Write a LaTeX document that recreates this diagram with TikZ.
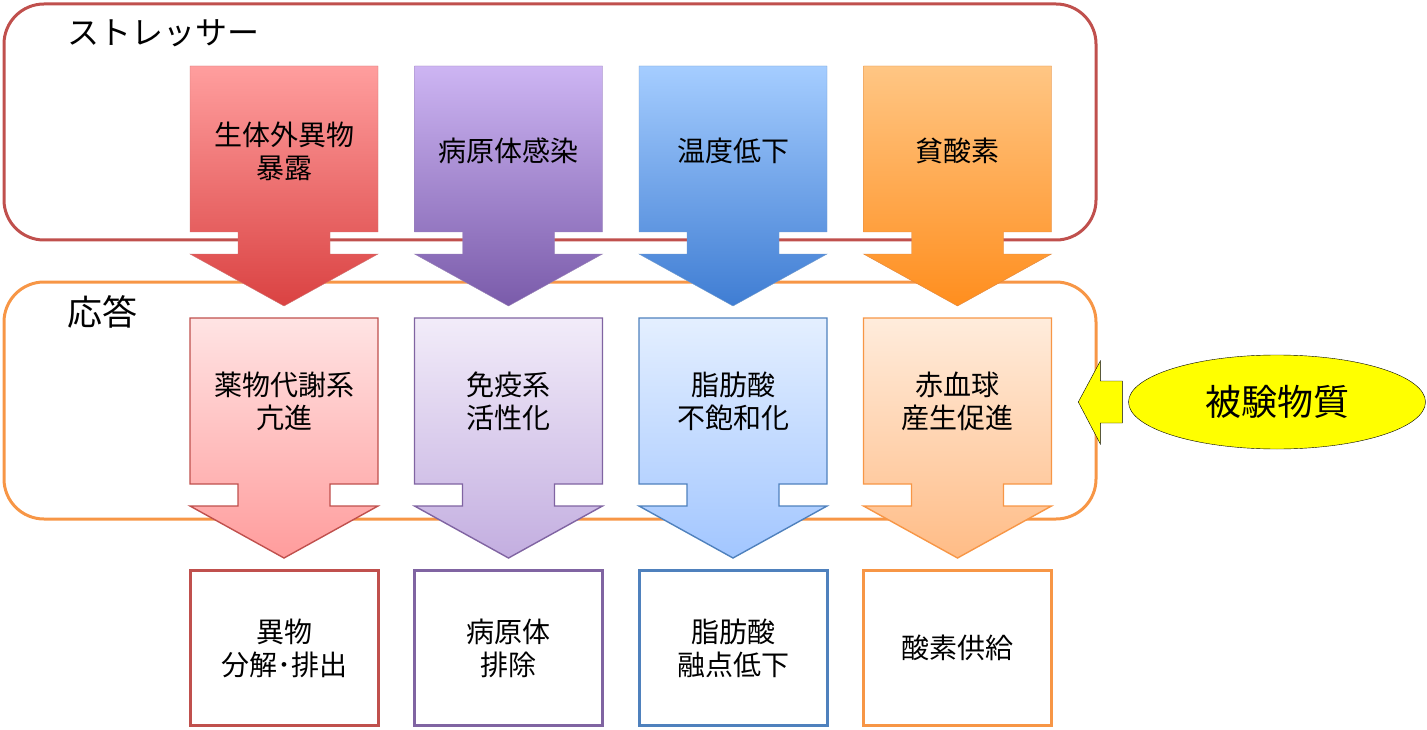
\documentclass[tikz,border=0pt]{standalone}
\usepackage{fontspec}
\setmainfont{Noto Sans CJK JP}
\usetikzlibrary{shapes.geometric, positioning}
\definecolor{redline}{HTML}{C0504D}
\definecolor{purpleline}{HTML}{8064A2}
\definecolor{blueline}{HTML}{4F81BD}
\definecolor{orangeline}{HTML}{F79646}
\definecolor{redtop}{HTML}{FF9E9E}
\definecolor{redbot}{HTML}{DA4242}
\definecolor{purpletop}{HTML}{CDB5F3}
\definecolor{purplebot}{HTML}{7A5BAA}
\definecolor{bluetop}{HTML}{A5CDFF}
\definecolor{bluebot}{HTML}{3F7DD3}
\definecolor{orangetop}{HTML}{FFC684}
\definecolor{orangebot}{HTML}{FF8E1E}
\definecolor{pinktop}{HTML}{FFE4E4}
\definecolor{pinkbot}{HTML}{FF9C9C}
\definecolor{lavtop}{HTML}{F2ECF9}
\definecolor{lavbot}{HTML}{C3AEE0}
\definecolor{skytop}{HTML}{E4EFFF}
\definecolor{skybot}{HTML}{A2C6FF}
\definecolor{peachtop}{HTML}{FFECDC}
\definecolor{peachbot}{HTML}{FFBC86}
\definecolor{testfill}{HTML}{FFFF00}
\tikzstyle{label} = [text centered, align=center, font=\fontsize{28pt}{33pt}\selectfont]
\tikzstyle{title} = [anchor=west, font=\fontsize{32pt}{36pt}\selectfont]
\tikzstyle{result} = [label, draw, line width=3pt, fill=white, minimum width=188pt, minimum height=155pt]
\tikzstyle{frame} = [rounded corners=40pt, line width=3pt]
\newcommand{\bigarrow}[3]{%
	\draw[#3] (#1,#2) -- ++(188,0) -- ++(0,166) -- ++(-48,0) -- ++(0,22) -- ++(48,0) -- ++(-94,52) -- ++(-94,-52) -- ++(48,0) -- ++(0,-22) -- ++(-48,0) -- cycle;}

\begin{document}
\begin{tikzpicture}[x=1pt,y=-1pt,node distance=224.5pt]
	\useasboundingbox (0,0) rectangle (1427,730);

	% frames
	\draw[frame,draw=redline] (4,4) rectangle (1096,240);
	\draw[frame,draw=orangeline] (4,282) rectangle (1096,519);
	\node[title](stress) at (64,33) {ストレッサー};
	\node[title,font=\fontsize{35pt}{38pt}\selectfont](resp) at (64,312) {応答};

	% stressor arrows
	\bigarrow{190}{66}{draw=redline!80, top color=redtop, bottom color=redbot}
	\bigarrow{414.5}{66}{draw=purpleline!80, top color=purpletop, bottom color=purplebot}
	\bigarrow{639}{66}{draw=blueline!80, top color=bluetop, bottom color=bluebot}
	\bigarrow{863.5}{66}{draw=orangeline!90!black, top color=orangetop, bottom color=orangebot}

	% response arrows
	\bigarrow{190}{318}{draw=redline, line width=1.4pt, top color=pinktop, bottom color=pinkbot}
	\bigarrow{414.5}{318}{draw=purpleline, line width=1.4pt, top color=lavtop, bottom color=lavbot}
	\bigarrow{639}{318}{draw=blueline, line width=1.4pt, top color=skytop, bottom color=skybot}
	\bigarrow{863.5}{318}{draw=orangeline, line width=1.4pt, top color=peachtop, bottom color=peachbot}

	\node[label](s1) at (284,151) {生体外異物\\暴露};
	\node[label,right of=s1](s2) {病原体感染};
	\node[label,right of=s2](s3) {温度低下};
	\node[label,right of=s3](s4) {貧酸素};

	\node[label,below of=s1,yshift=-25.5pt](a1) {薬物代謝系\\亢進};
	\node[label,right of=a1](a2) {免疫系\\活性化};
	\node[label,right of=a2](a3) {脂肪酸\\不飽和化};
	\node[label,right of=a3](a4) {赤血球\\産生促進};

	\node[result,draw=redline,below of=a1,yshift=-22.5pt](r1) {異物\\分解･排出};
	\node[result,draw=purpleline,right of=r1](r2) {病原体\\排除};
	\node[result,draw=blueline,right of=r2](r3) {脂肪酸\\融点低下};
	\node[result,draw=orangeline,right of=r3](r4) {酸素供給};

	% test substance
	\node[ellipse,draw,fill=testfill,minimum width=297pt,minimum height=94pt,font=\fontsize{36pt}{40pt}\selectfont](test) at (1277,402) {被験物質};
	\draw[fill=testfill] ([xshift=-6pt,yshift=21pt]test.west) -- ++(-22,0) -- ++(0,-20) -- ++(-22,41) -- ++(22,42) -- ++(0,-21) -- ++(22,0) -- cycle;

\end{tikzpicture}
\end{document}
